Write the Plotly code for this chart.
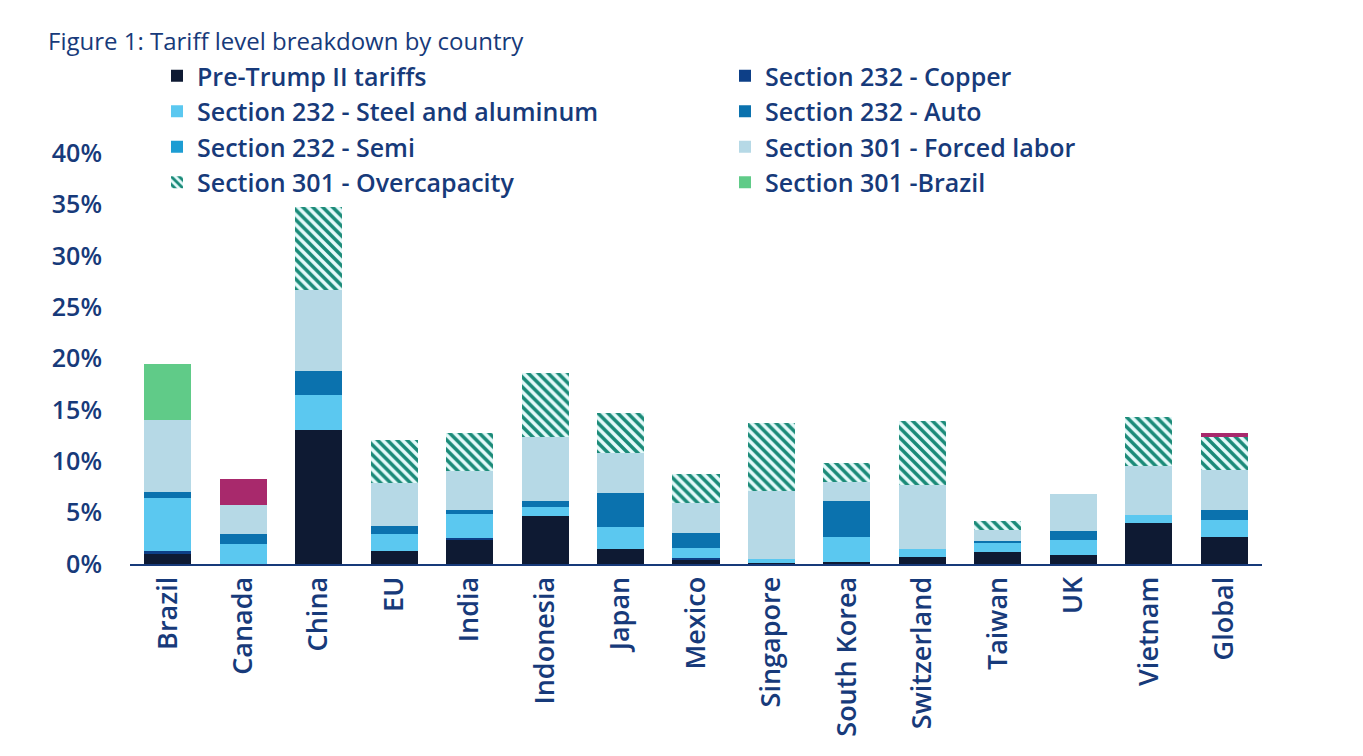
import plotly.graph_objects as go

countries = ["Brazil", "Canada", "China", "EU", "India", "Indonesia", "Japan", "Mexico",
             "Singapore", "South Korea", "Switzerland", "Taiwan", "UK", "Vietnam", "Global"]

pre_trump    = [1.0, 0.0, 13.0, 1.25, 2.4, 4.65, 1.5, 0.35, 0.1, 0.2, 0.7, 1.2, 0.85, 4.0, 2.65]
copper       = [0.25, 0.0, 0.0, 0.0, 0.15, 0.0, 0.0, 0.2, 0.0, 0.0, 0.0, 0.0, 0.0, 0.0, 0.0]
steel_alu    = [5.2, 1.95, 3.4, 1.65, 2.3, 0.9, 2.15, 1.05, 0.35, 2.45, 0.75, 0.8, 1.5, 0.75, 1.6]
auto         = [0.55, 0.95, 2.4, 0.8, 0.4, 0.6, 3.3, 1.45, 0.0, 3.45, 0.0, 0.25, 0.85, 0.0, 1.05]
semi         = [0.0] * 15
forced_labor = [7.0, 2.8, 7.9, 4.15, 3.8, 6.2, 3.85, 2.85, 6.65, 1.9, 6.25, 1.05, 3.65, 4.8, 3.85]
overcapacity = [0.0, 0.0, 8.0, 4.2, 3.7, 6.2, 3.9, 2.85, 6.6, 1.85, 6.2, 0.9, 0.0, 4.75, 3.25]
brazil_301   = [5.5, 0.0, 0.0, 0.0, 0.0, 0.0, 0.0, 0.0, 0.0, 0.0, 0.0, 0.0, 0.0, 0.0, 0.0]
other        = [0.0, 2.6, 0.0, 0.0, 0.0, 0.0, 0.0, 0.0, 0.0, 0.0, 0.0, 0.0, 0.0, 0.0, 0.35]

y_ticks = [0, 5, 10, 15, 20, 25, 30, 35, 40]
y_tick_labels = [f"{v}%" for v in y_ticks]

TEXT = "#173a7a"
FONT = "Open Sans"

series = [
    ("Pre-Trump II tariffs", pre_trump, "#0e1a33", None, True),
    ("Section 232 - Copper", copper, "#0d3f87", None, True),
    ("Section 232 - Steel and aluminum", steel_alu, "#5bc8f0", None, True),
    ("Section 232 - Auto", auto, "#0b72ae", None, True),
    ("Section 232 - Semi", semi, "#1d9dd3", None, True),
    ("Section 301 - Forced labor", forced_labor, "#b6d9e6", None, True),
    ("Section 301 - Overcapacity", overcapacity, "#e4fafa", "\\", True),
    ("Section 301 -Brazil", brazil_301, "#60cb88", None, True),
    ("Other", other, "#a8296c", None, False),
]

fig = go.Figure()
for name, vals, color, pattern, show in series:
    marker = dict(color=color, line=dict(width=0))
    if pattern:
        marker["pattern"] = dict(shape=pattern, fgcolor="#1a8a78", bgcolor=color,
                                 size=7, solidity=0.5, fillmode="replace")
    fig.add_trace(go.Bar(x=countries, y=vals, name=name, marker=marker, showlegend=show))

# page body adds an 8px offset, so positions are shifted up/left by 8px
L, T, PW, PH = 122, 145, 1132, 411
fig.update_layout(
    barmode="stack",
    bargap=0.376,
    width=1363, height=756,
    margin=dict(l=L, r=1363 - L - PW, t=T, b=756 - T - PH, autoexpand=False),
    paper_bgcolor="white", plot_bgcolor="white",
    font=dict(family=FONT, color=TEXT),
    title=dict(text="Figure 1: Tariff level breakdown by country",
               x=40 / 1363, xref="container", xanchor="left",
               y=1 - 34 / 756, yref="container", yanchor="middle",
               font=dict(family=FONT, size=24, color=TEXT)),
    legend=dict(orientation="h", x=(149 - L) / PW, xanchor="left",
                y=1 + (T - 45) / PH, yanchor="top",
                entrywidth=523, entrywidthmode="pixels",
                font=dict(family=FONT, size=25, color=TEXT, weight=600),
                bgcolor="rgba(0,0,0,0)", traceorder="normal"),
    xaxis=dict(showline=True, linecolor="#173a7a", linewidth=2, showgrid=False,
               ticks="", tickangle=-90, ticklabelstandoff=0, automargin=False,
               tickfont=dict(family=FONT, size=27, color=TEXT, weight=600)),
    yaxis=dict(range=[0, 40], tickvals=y_ticks, ticktext=y_tick_labels, showgrid=False,
               zeroline=False, showline=False, ticks="", ticklabelstandoff=27,
               automargin=False,
               tickfont=dict(family=FONT, size=25, color=TEXT, weight=600)),
)

fig.write_html("out.html")
